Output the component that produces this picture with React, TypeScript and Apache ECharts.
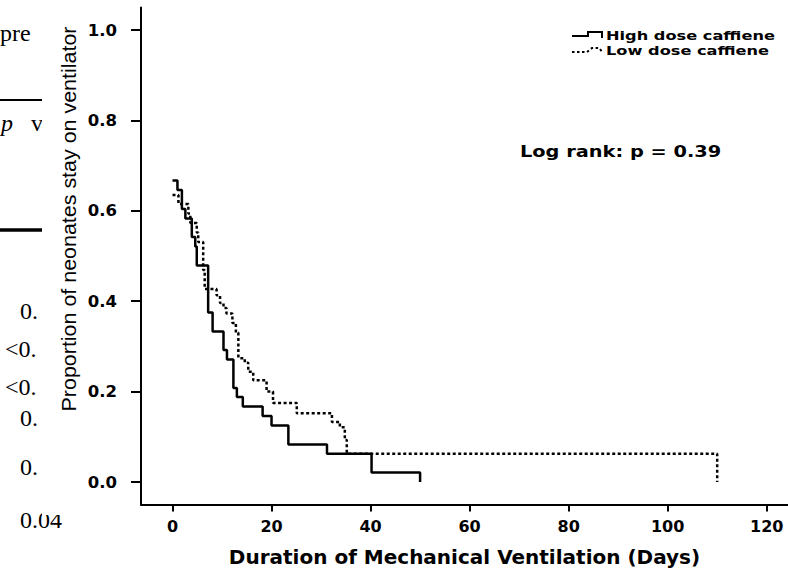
import React, { useEffect, useRef } from "react";
import * as echarts from "echarts";

// Kaplan-Meier steps (day, proportion still ventilated after the step)
const highDays = [0, 1.0, 1.9, 2.6, 3.9, 4.6, 4.9, 7.2, 8.1, 10.3, 11.0, 12.3, 13.0, 14.2, 18.2, 20.0, 23.4, 31.2, 40.2, 50];
const highSurv = [0.667, 0.646, 0.604, 0.583, 0.542, 0.521, 0.479, 0.375, 0.333, 0.292, 0.271, 0.208, 0.188, 0.167, 0.146, 0.125, 0.083, 0.0625, 0.021, 0];

const lowDays = [0, 1.2, 3.2, 3.6, 4.9, 5.2, 6.2, 6.5, 8.9, 9.6, 10.3, 10.9, 12.1, 12.8, 13.3, 14.6, 15.3, 16.3, 19.0, 20.3, 25.1, 32.2, 33.8, 34.8, 35.2, 110];
const lowSurv = [0.635, 0.615, 0.594, 0.573, 0.552, 0.531, 0.469, 0.427, 0.413, 0.396, 0.385, 0.373, 0.352, 0.33, 0.274, 0.264, 0.244, 0.225, 0.2, 0.175, 0.152, 0.133, 0.121, 0.093, 0.0625, 0];

const xTicks = [0, 20, 40, 60, 80, 100, 120];
const yTicks = [0, 0.2, 0.4, 0.6, 0.8, 1.0];

const seriesNames = ["High dose caffiene", "Low dose caffiene"];
const xTitle = "Duration of Mechanical Ventilation (Days)";
const yTitle = "Proportion of neonates stay on ventilator";
const annotation = "Log rank: p = 0.39";

// Fragments of the neighbouring table cropped at the left edge
const sideTexts = ["pre", "0.", "<0.", "<0.", "0.", "0.", "0.04"];

export default function App() {
  const ref = useRef<HTMLDivElement>(null);

  useEffect(() => {
    if (!ref.current) return;
    const chart = echarts.init(ref.current, null, { renderer: "svg" });

    const high = highDays.map((d, i) => [d, highSurv[i]]);
    const low = lowDays.map((d, i) => [d, lowSurv[i]]);

    const serif = '"Liberation Serif", "DejaVu Serif", serif';
    const boldSans = '"DejaVu Sans", Verdana, sans-serif';

    const sideY = [33, 311, 349, 387, 418, 467, 520];
    const sideX = [0, 20, 5, 5, 20, 20, 20];

    const graphic: any[] = [
      ...sideTexts.map((t, i) => ({
        type: "text",
        x: sideX[i],
        y: sideY[i],
        z: 0,
        style: { text: t, font: `24px ${serif}`, fill: "#000", textVerticalAlign: "middle" },
      })),
      { type: "text", x: 1, y: 123, z: 0, style: { text: "p", font: `italic 24px ${serif}`, fill: "#000", textVerticalAlign: "middle" } },
      { type: "text", x: 31, y: 123, z: 0, style: { text: "v", font: `24px ${serif}`, fill: "#000", textVerticalAlign: "middle" } },
      { type: "line", z: 0, shape: { x1: 0, y1: 100, x2: 42, y2: 100 }, style: { stroke: "#000", lineWidth: 2 } },
      { type: "line", z: 0, shape: { x1: 0, y1: 230, x2: 42, y2: 230 }, style: { stroke: "#000", lineWidth: 3.5 } },
      { type: "rect", z: 1, shape: { x: 42, y: 0, width: 20, height: 515 }, style: { fill: "#fff" } },
      {
        type: "text",
        x: 69,
        y: 219,
        z: 2,
        rotation: Math.PI / 2,
        scaleX: 1.1,
        style: {
          text: yTitle,
          font: '19.5px "Liberation Sans", Arial, sans-serif',
          fill: "#000",
          textAlign: "center",
          textVerticalAlign: "middle",
        },
      },
      // legend
      { type: "polyline", z: 3, shape: { points: [[572, 36], [588, 36], [588, 32], [602, 32], [602, 38]] }, style: { stroke: "#000", lineWidth: 2, fill: null } },
      { type: "polyline", z: 3, shape: { points: [[572, 52], [587, 52], [592, 48], [599, 48], [603, 53]] }, style: { stroke: "#000", lineWidth: 2, fill: null, lineDash: [2.5, 2.5] } },
      { type: "text", x: 606, y: 36, z: 3, scaleX: 1.35, style: { text: seriesNames[0], font: `bold 12px ${boldSans}`, fill: "#000", textVerticalAlign: "middle" } },
      { type: "text", x: 606, y: 51, z: 3, scaleX: 1.35, style: { text: seriesNames[1], font: `bold 12px ${boldSans}`, fill: "#000", textVerticalAlign: "middle" } },
      { type: "text", x: 520, y: 152, z: 3, scaleX: 1.21, style: { text: annotation, font: `bold 16px ${boldSans}`, fill: "#000", textVerticalAlign: "middle" } },
    ];

    chart.setOption({
      animation: false,
      backgroundColor: "#fff",
      grid: { left: 141, right: 0, top: 7.4, bottom: 79.4, containLabel: false, outerBoundsMode: "none" },
      xAxis: {
        type: "value",
        min: -6.36,
        max: 124.3,
        name: xTitle,
        nameLocation: "middle",
        nameGap: 42,
        nameTextStyle: { fontFamily: boldSans, fontWeight: "bold", fontSize: 20, color: "#000", verticalAlign: "top" },
        axisLine: { show: true, onZero: false, lineStyle: { color: "#000", width: 2 } },
        axisTick: { show: true, length: 7, customValues: xTicks, lineStyle: { color: "#000", width: 2 } },
        axisLabel: { customValues: xTicks, margin: 14, fontFamily: boldSans, fontWeight: "bold", fontSize: 16, color: "#000" },
        splitLine: { show: false },
      },
      yAxis: {
        type: "value",
        min: -0.05,
        max: 1.05,
        axisLine: { show: true, onZero: false, lineStyle: { color: "#000", width: 2 } },
        axisTick: { show: true, length: 10, customValues: yTicks, lineStyle: { color: "#000", width: 2 } },
        axisLabel: {
          customValues: yTicks,
          margin: 24,
          formatter: (v: number) => v.toFixed(1),
          fontFamily: boldSans,
          fontWeight: "bold",
          fontSize: 16.5,
          color: "#000",
        },
        splitLine: { show: false },
      },
      series: [
        {
          name: seriesNames[1],
          type: "line",
          step: "end",
          symbol: "none",
          data: low,
          lineStyle: { color: "#000", width: 2.5, type: [3, 2.5], cap: "butt" },
          z: 2,
        },
        {
          name: seriesNames[0],
          type: "line",
          step: "end",
          symbol: "none",
          data: high,
          lineStyle: { color: "#000", width: 2.5, type: "solid" },
          z: 3,
        },
      ],
      graphic,
    });

    return () => chart.dispose();
  }, []);

  return (
    <div
      ref={ref}
      style={{ position: "fixed", left: 0, top: 0, width: 788, height: 584, background: "#fff" }}
    />
  );
}
